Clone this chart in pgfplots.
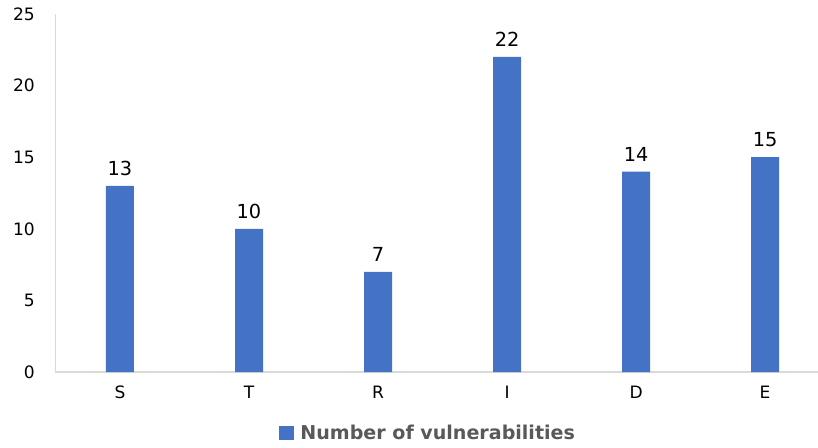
\documentclass[border=0pt]{standalone}
\usepackage{pgfplots}
\pgfplotsset{compat=1.18}
\usepackage{fontspec}
\setmainfont{DejaVu Sans}
\definecolor{barblue}{HTML}{4472C4}
\definecolor{axisgray}{HTML}{D9D9D9}
\definecolor{legtext}{HTML}{595959}
\begin{document}
\begin{tikzpicture}
\useasboundingbox (-41.6pt,-56.25pt) rectangle (571.9pt,279pt);
\begin{axis}[
  at={(0,0)}, anchor=south west,
  scale only axis,
  width=571.9pt, height=268.5pt,
  xmin=-0.5, xmax=5.41,
  ymin=0, ymax=25,
  ytick={0,5,10,15,20,25},
  xtick=data,
  xticklabels={S,T,R,I,D,E},
  axis x line*=bottom,
  axis y line*=left,
  axis line style={axisgray, line width=0.8pt},
  x axis line style={-},
  y axis line style={-},
  major tick length=0pt,
  tick style={draw=none},
  yticklabel style={font=\fontsize{12.8}{15}\selectfont, xshift=-12pt},
  xticklabel style={font=\fontsize{12.8}{15}\selectfont, yshift=-7pt},
  /pgf/number format/assume math mode=true,
  ybar, bar width=21pt,
  nodes near coords,
  every node near coord/.append style={font=\fontsize{14.5}{17}\selectfont, black, yshift=4pt},
  legend style={at={(0.489,0)}, anchor=center, yshift=-45.75pt, draw=none,
    font=\fontsize{14.3}{16}\selectfont\bfseries\color{legtext}},
  legend image code/.code={\fill[#1] (0pt,-5.5pt) rectangle (11pt,5.5pt);},
  legend cell align=left,
  legend style={/tikz/every even column/.append style={column sep=0pt}},
  clip=false,
]
\addplot[fill=barblue, draw=none] coordinates {(0,13) (1,10) (2,7) (3,22) (4,14) (5,15)};
\addlegendentry{\hspace{3pt}Number of vulnerabilities}
\end{axis}
\end{tikzpicture}
\end{document}
